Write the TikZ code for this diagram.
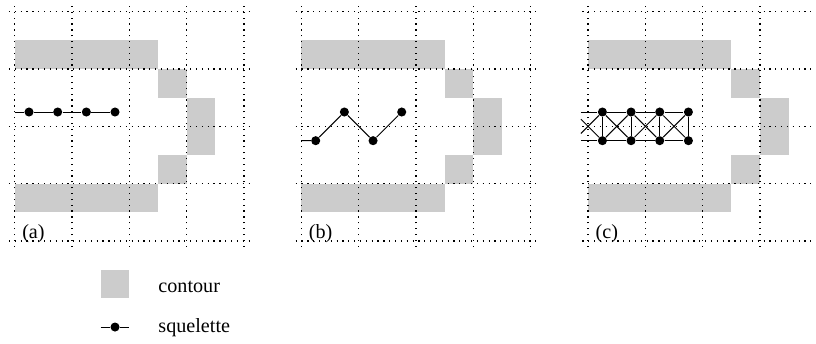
\documentclass[tikz,border=0pt]{standalone}
\usepackage{fontspec}
\setmainfont{Liberation Serif}
\begin{document}
\begin{tikzpicture}[x=0.5cm,y=0.5cm,
  cont/.style={fill=gray!40, draw=none},
  gridline/.style={dash pattern=on 0.6pt off 2.3pt, line width=0.6pt},
  skel/.style={line width=0.5pt},
  dot/.style={circle, fill=black, inner sep=0pt, minimum size=4.5pt},
  lab/.style={font=\fontsize{10}{12}\selectfont, inner sep=0pt}]
\useasboundingbox (-0.512,-3.557) rectangle (27.95,8.407);

\foreach \ox/\l in {0/a,10/b,20/c} {
  \begin{scope}[shift={(\ox,0)}]
    \fill[cont] (0,6) rectangle (5,7);
    \fill[cont] (0,1) rectangle (5,2);
    \fill[cont] (5,5) rectangle (6,6);
    \fill[cont] (6,3) rectangle (7,5);
    \fill[cont] (5,2) rectangle (6,3);
    \draw[gridline] (-0.2,-0.2) grid (8.2,8.2);
    \node[lab, anchor=base west] (lab\l) at (0.25,0.1) {(\l)};
  \end{scope}
}

% panel (a)
\coordinate (a0) at (0,4.5);
\foreach \i in {1,...,4} { \node[dot] (a\i) at ({\i-0.5},4.5) {}; }
\draw[skel] (a0) -- (a1) -- (a2) -- (a3) -- (a4);

% panel (b)
\coordinate (b0) at (10,3.5);
\node[dot] (b1) at (10.5,3.5) {};
\node[dot] (b2) at (11.5,4.5) {};
\node[dot] (b3) at (12.5,3.5) {};
\node[dot] (b4) at (13.5,4.5) {};
\draw[skel] (b0) -- (b1) -- (b2) -- (b3) -- (b4);

% panel (c)
\coordinate (ct0) at (19.75,4.5);
\coordinate (cu0) at (19.75,3.5);
\coordinate (cd1) at (19.75,3.75);
\coordinate (cd2) at (19.75,4.25);
\foreach \i in {1,...,4} {
  \node[dot] (t\i) at ({19.5+\i},4.5) {};
  \node[dot] (u\i) at ({19.5+\i},3.5) {};
}
\draw[skel] (ct0) -- (t1) -- (t2) -- (t3) -- (t4);
\draw[skel] (cu0) -- (u1) -- (u2) -- (u3) -- (u4);
\foreach \i in {1,...,4} { \draw[skel] (t\i) -- (u\i); }
\draw[skel] (cd1) -- (t1);
\draw[skel] (cd2) -- (u1);
\foreach \i/\j in {1/2,2/3,3/4} {
  \draw[skel] (t\i) -- (u\j);
  \draw[skel] (u\i) -- (t\j);
}

% legend
\node[cont, minimum size=0.5cm, inner sep=0pt] (legc) at (3.5,-1.5) {};
\node[lab, anchor=base west] (tcont) at (5,-1.8) {contour};
\coordinate (ls0) at (3,-3);
\node[dot] (ls1) at (3.5,-3) {};
\coordinate (ls2) at (4,-3);
\draw[skel] (ls0) -- (ls1) -- (ls2);
\node[lab, anchor=base west] (tsq) at (5,-3.2) {squelette};
\end{tikzpicture}
\end{document}
